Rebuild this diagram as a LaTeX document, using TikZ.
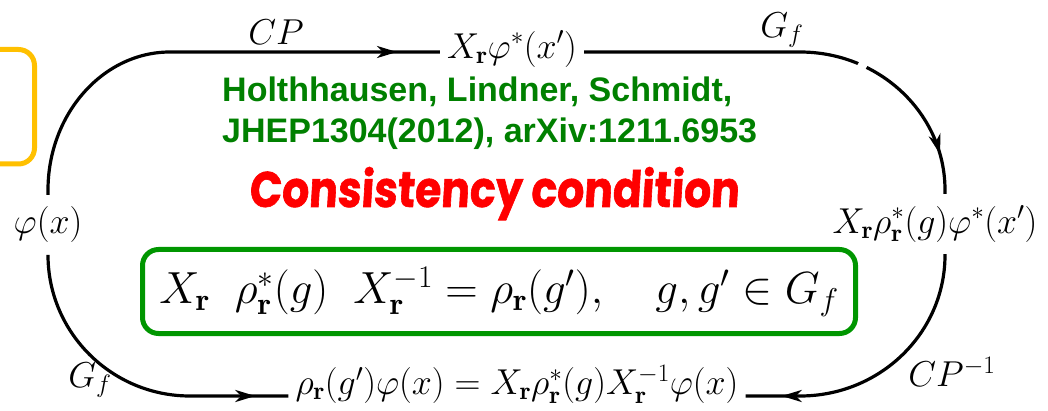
\RequirePackage{fix-cm}
\documentclass[tikz,border=0pt]{standalone}
\usepackage{fontspec}
\newfontfamily\creditfont{Liberation Sans}
\newfontfamily\popfont[FakeSlant=0.06,FakeStretch=0.85,FakeBold=1.2]{Poppins}
\usetikzlibrary{arrows.meta,decorations.markings,calc}
\definecolor{creditgreen}{RGB}{0,128,0}
\definecolor{boxgreen}{RGB}{0,150,0}
\definecolor{popred}{RGB}{255,0,0}
\definecolor{boxyellow}{RGB}{255,192,0}
\tikzset{
  mathlbl/.style={inner sep=0pt, font=\fontsize{36}{42}\selectfont},
  statenode/.style={mathlbl, inner xsep=7pt, inner ysep=12pt},
  conn/.style={line width=3.2pt},
  midarrow/.style={postaction={decorate}, decoration={markings,
      mark=at position #1 with {\arrow{Stealth[length=20pt,width=12pt,inset=6pt]}}}},
  credit/.style={inner sep=0pt, text=creditgreen, font=\creditfont\bfseries\fontsize{34}{40}\selectfont},
}
\begin{document}
\begin{tikzpicture}[x=1pt,y=-1pt]
\useasboundingbox (0,0) rectangle (1048,411);
% partial yellow box at the left edge
\draw[boxyellow, line width=5pt, rounded corners=16pt] (-40,49.5) rectangle (34.5,164);
% state nodes
\node[statenode] (T) at (512,49) {$X_{\mathbf r}\varphi^*(x')$};
\node[statenode] (L) at (48,225) {$\varphi(x)$};
\node[statenode] (R) at (935,224) {$X_{\mathbf r}\rho^*_{\mathbf r}(g)\varphi^*(x')$};
\node[statenode] (B) at (517,384) {$\rho_{\mathbf r}(g')\varphi(x)=X_{\mathbf r}\rho^*_{\mathbf r}(g)X_{\mathbf r}^{-1}\varphi(x)$};
\coordinate (ytop) at (0,52);
\coordinate (ybot) at (0,396);
\coordinate (xr) at (945,0);
% connectors
\draw[conn, midarrow=-43pt] (L.north) -- (48,190) .. controls (48,114) and (103,52) .. (170,52) -- (T.west |- ytop);
\draw[conn, midarrow=-40pt] (T.east |- ytop) -- (800,52) .. controls (880,52) and (945,114) .. (945,190) -- (R.north -| xr);
\draw[conn, midarrow=-36pt] (R.south -| xr) -- (945,255) .. controls (945,333) and (880,396) .. (800,396) -- (B.east |- ybot);
\draw[conn, midarrow=-33pt] (L.south) -- (48,255) .. controls (48,333) and (112,396) .. (190,396) -- (B.west |- ybot);
% small break in the upper right arc
\draw[white, line width=9pt] (859,71) -- (865,61);
% arrow labels
\node[mathlbl] (cp) at (276,32) {$CP$};
\node[mathlbl] (gf1) at (782,30) {$G_f$};
\node[mathlbl] (gf2) at (90,380) {$G_f$};
\node[mathlbl] (cpi) at (952,372) {$CP^{-1}$};
% credit
\node[credit, anchor=base west] (c1) at (222,102) {Holthhausen, Lindner, Schmidt,};
\node[credit, anchor=base west] (c2) at (222,143) {JHEP1304(2012), arXiv:1211.6953};
% title
\node[inner sep=0pt, anchor=base, text=popred, font=\popfont\bfseries\fontsize{50}{56}\selectfont] (title) at (494,207) {Consistency condition};
% condition box
\node[draw=boxgreen, line width=5pt, rounded corners=16pt, minimum width=713pt, minimum height=84pt, inner sep=0pt, font=\fontsize{45}{50}\selectfont] (E) at (499,291.5)
  {$X_{\mathbf r}\;\;\rho^*_{\mathbf r}(g)\;\;X_{\mathbf r}^{-1}=\rho_{\mathbf r}(g'),\quad g,g'\in G_f$};
\end{tikzpicture}
\end{document}
